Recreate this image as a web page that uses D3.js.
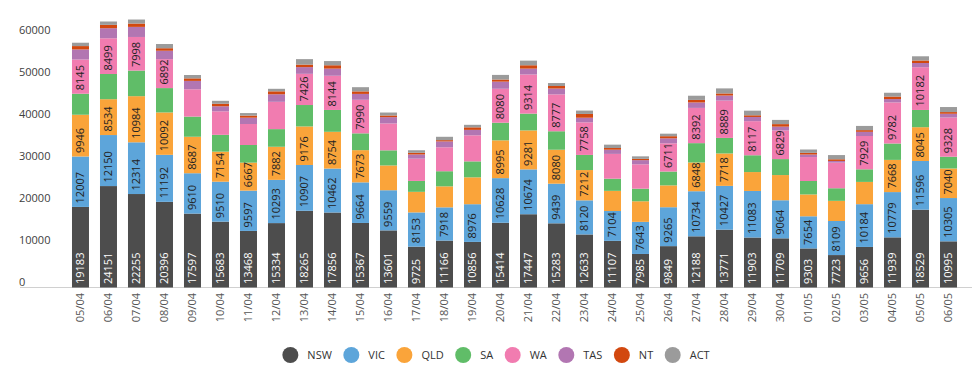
<!DOCTYPE html>
<head>
  <title>Daily cases by state</title>
  <meta charset="utf-8">
  <script src="https://cdn.jsdelivr.net/npm/d3@7"></script>
  <style>
    body { margin: 0; background: #fff; }
    text { font-family: "Open Sans", sans-serif; }
  </style>
</head>

<body>
  <div id="chart"></div>
</body>

<script>
  // chart data
  var dates = ["05/04","06/04","07/04","08/04","09/04","10/04","11/04","12/04","13/04","14/04",
    "15/04","16/04","17/04","18/04","19/04","20/04","21/04","22/04","23/04","24/04","25/04",
    "26/04","27/04","28/04","29/04","30/04","01/05","02/05","03/05","04/05","05/05","06/05"];
  var states = ["NSW","VIC","QLD","SA","WA","TAS","NT","ACT"];
  var colors = ["#4d4d4d","#5da5da","#faa43a","#60bd68","#f17cb0","#b276b2","#d2480f","#9b9b9b"];

  var nsw = [19183,24151,22255,20396,17597,15683,13468,15334,18265,17856,15367,13601,9725,11166,10856,15414,
    17447,15283,12633,11107,7985,9849,12188,13771,11903,11709,9303,7723,9656,11939,18529,10995];
  var vic = [12007,12150,12314,11192,9610,9510,9597,10293,10907,10462,9664,9559,8153,7918,8976,10628,
    10674,9439,8120,7104,7643,9265,10734,10427,11083,9064,7654,8109,10184,10779,11596,10305];
  var qld = [9946,8534,10984,10092,8687,7154,6667,7882,9176,8754,7673,5900,4900,5000,6400,8995,
    9281,8080,7212,4800,4900,5200,6848,7718,4500,6000,5200,4800,5300,7668,8045,7040];
  var sa = [5000,6000,6100,5800,4800,4000,4200,4200,5100,5200,4000,3600,2600,3600,3800,4200,
    4000,4400,3600,2900,3000,3300,4600,3700,4000,3800,3200,3000,3000,3900,4100,2800];
  var wa = [8145,8499,7998,6892,6500,5600,5000,6500,7426,8144,7990,6400,5300,5700,6200,8080,
    9314,8777,7758,5900,5800,6711,8392,8889,8117,6829,5700,6100,7929,9782,10182,9328];
  var tas = [2400,2400,2400,2000,2000,1200,1500,1800,1600,1700,1400,1500,1000,1400,1300,1700,
    1400,1400,1100,1000,1000,1200,1300,1200,1000,900,600,400,1000,800,1000,900];
  var nt = [800,800,800,600,600,600,500,700,600,800,600,400,400,300,600,500,
    800,600,900,400,300,500,600,500,400,600,400,400,400,600,600,400];
  var act = [800,800,950,1000,800,700,600,600,1300,1000,1000,700,600,800,600,1100,
    1100,700,800,800,600,600,1000,1200,1100,1000,800,1000,1000,900,1000,1200];
  var yTicks = [0,10000,20000,30000,40000,50000,60000];

  var labelMin = 6600; // smaller segments carry no value label

  var width = 972, height = 372;

  var series = [nsw, vic, qld, sa, wa, tas, nt, act];
  var rows = dates.map(function(d, i) {
    var row = {date: d};
    states.forEach(function(s, j) { row[s] = series[j][i]; });
    return row;
  });

  var svg = d3.select("#chart")
    .append("svg")
    .attr("width", width)
    .attr("height", height);

  var x = d3.scaleBand()
    .domain(dates)
    .range([66.5, 962.5])
    .paddingInner(0.393)
    .paddingOuter(0.196);

  var y = d3.scaleLinear()
    .domain([0, 60000])
    .range([287.5, 35.5]);

  var color = d3.scaleOrdinal().domain(states).range(colors);

  // y axis: only the labels, left aligned, sitting on the tick line
  var yAxis = svg.append("g")
    .attr("transform", "translate(19,0)")
    .call(d3.axisLeft(y).tickValues(yTicks).tickSize(0).tickFormat(d3.format("d")));
  yAxis.select(".domain").remove();
  yAxis.selectAll("text")
    .attr("x", 0)
    .attr("dy", "-0.15em")
    .attr("text-anchor", "start")
    .attr("fill", "#404040")
    .style("font-size", "11px")
    .style("font-family", "Open Sans");

  // base line
  svg.append("line")
    .attr("x1", 20).attr("x2", 972)
    .attr("y1", y(0)).attr("y2", y(0))
    .attr("stroke", "#d0d0d0")
    .attr("stroke-width", 1);

  var stack = d3.stack().keys(states);
  var layers = stack(rows);

  var layer = svg.selectAll(".layer")
    .data(layers)
    .enter().append("g")
    .attr("class", "layer")
    .attr("fill", function(d) { return color(d.key); });

  layer.selectAll("rect")
    .data(function(d) { return d; })
    .enter().append("rect")
    .attr("x", function(d) { return x(d.data.date); })
    .attr("y", function(d) { return y(d[1]); })
    .attr("width", x.bandwidth())
    .attr("height", function(d) { return y(d[0]) - y(d[1]); });

  // value labels, rotated, starting just above the segment base
  layers.forEach(function(l) {
    svg.append("g")
      .selectAll("text")
      .data(l.filter(function(d) { return d[1] - d[0] >= labelMin; }))
      .enter().append("text")
      .attr("transform", function(d) {
        return "translate(" + (x(d.data.date) + x.bandwidth() / 2) + "," + (y(d[0]) - 3.5) + ") rotate(-90)";
      })
      .attr("dy", "0.35em")
      .attr("text-anchor", "start")
      .attr("fill", l.key == "NSW" ? "#ffffff" : "#222222")
      .style("font-size", "11px")
      .text(function(d) { return d[1] - d[0]; });
  });

  // x axis labels
  var xAxis = svg.append("g")
    .attr("transform", "translate(0," + y(0) + ")")
    .call(d3.axisBottom(x).tickSize(0));
  xAxis.select(".domain").remove();
  xAxis.selectAll("text")
    .attr("transform", "rotate(-90)")
    .attr("x", -5.5)
    .attr("y", 0)
    .attr("dy", "0.35em")
    .attr("text-anchor", "end")
    .attr("fill", "#555555")
    .style("font-size", "11px")
    .style("font-family", "Open Sans");

  // legend, laid out left to right and centred under the base line
  var legend = svg.append("g");
  var item = legend.selectAll("g")
    .data(states)
    .enter().append("g");
  item.append("circle")
    .attr("r", 8)
    .attr("fill", function(d) { return color(d); });
  item.append("text")
    .attr("x", 17)
    .attr("dy", "0.35em")
    .attr("fill", "#333333")
    .style("font-size", "11px")
    .text(function(d) { return d; });

  var pos = 0;
  item.each(function() {
    var g = d3.select(this);
    g.attr("transform", "translate(" + pos + ",0)");
    pos += 17 + g.select("text").node().getComputedTextLength() + 19.5;
  });
  var legendWidth = pos - 19.5 + 8;
  legend.attr("transform", "translate(" + (496 - legendWidth / 2 + 8) + ",355)");
</script>
